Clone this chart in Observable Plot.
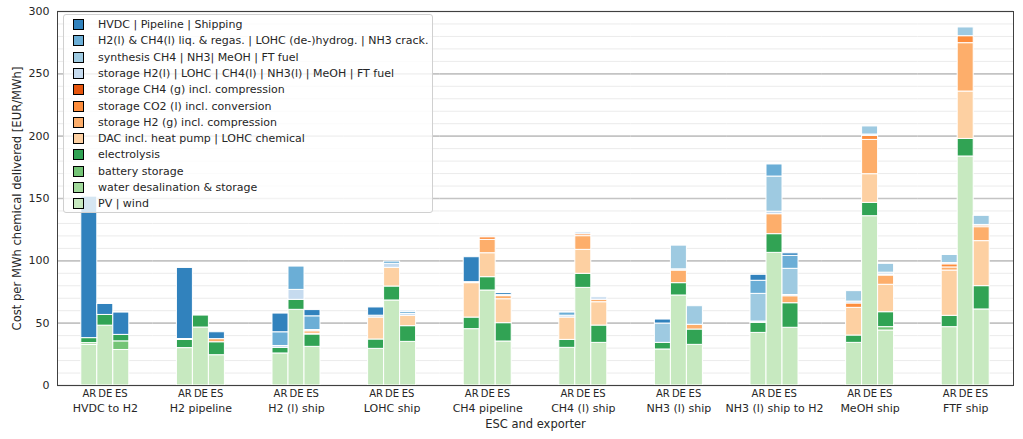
<!DOCTYPE html>
<html><head><meta charset="utf-8">
<script src="https://cdn.jsdelivr.net/npm/d3@7"></script>
<script src="https://cdn.jsdelivr.net/npm/@observablehq/plot@0.6"></script>
<style>
body{margin:0;background:#fff;font-family:"DejaVu Sans",sans-serif;}
#wrap{position:relative;width:1023px;height:439px;}
#legend{position:absolute;left:63px;top:14px;width:370px;height:199px;background:rgba(255,255,255,0.8);border:1px solid #d0d0d0;border-radius:3px;box-sizing:border-box;z-index:2;}
.row{position:absolute;left:0;height:16px;display:flex;align-items:center;font-size:11px;color:#262626;white-space:nowrap;}
.sw{width:9px;height:9px;border:1px solid #000;margin-left:9px;margin-right:14px;flex:none;}
</style></head>
<body><div id="wrap"><div id="legend"></div></div>
<script>
const groups = ["HVDC to H2","H2 pipeline","H2 (l) ship","LOHC ship","CH4 pipeline","CH4 (l) ship","NH3 (l) ship","NH3 (l) ship to H2","MeOH ship","FTF ship"];
const exporters = ["AR","DE","ES"];
// legend order (top to bottom)
const categories = [
  "HVDC | Pipeline | Shipping",
  "H2(l) & CH4(l) liq. & regas. | LOHC (de-)hydrog. | NH3 crack.",
  "synthesis CH4 | NH3| MeOH | FT fuel",
  "storage H2(l) | LOHC | CH4(l) | NH3(l) | MeOH | FT fuel",
  "storage CH4 (g) incl. compression",
  "storage CO2 (l) incl. conversion",
  "storage H2 (g) incl. compression",
  "DAC incl. heat pump | LOHC chemical",
  "electrolysis",
  "battery storage",
  "water desalination & storage",
  "PV | wind"
];
const colors = ["#3182bd","#6baed6","#9ecae1","#c6dbef","#e6550d","#fd8d3c","#fdae6b","#fdd0a2","#31a354","#74c476","#a1d99b","#c7e9c0"];
const yTicks = [0,50,100,150,200,250,300];
const yLabel = "Cost per MWh chemical delivered [EUR/MWh]";
const xLabel = "ESC and exporter";

// values per group: AR, DE, ES
const transport     = [113.5,8.8,17.9, 57,0,5.5, 15,0,5, 6.6,0,1, 20,0,1.5, 0,0,0, 3.2,0,0, 4.8,0,2, 0,0,0, 0,0,0];
const liquefaction  = [0,0,0, 0,0,0, 11,18.7,11, 0,1.8,1.5, 0,0,0, 2.5,0,0, 0,0,0, 10.5,9.7,10.4, 0,0,0, 0,0,0];
const synthesis     = [0,0,0, 0,0,0, 0,0,0, 0,0,0, 0,0,0, 0,0,0, 15.5,19,14.9, 22.2,28.2,21, 8.4,6.5,7.1, 6.5,7,7.3];
const storageLiquid = [0,0,0, 0,0,0, 1.5,8,1, 1.5,3.2,1.5, 0.8,0,1, 1.5,1.5,2, 0,1,0, 1,2,1, 1.5,1,1.5, 1,0,0.5];
const storageCH4g   = [0,0,0, 0,0,0, 0,0,0, 0,0,0, 0,0,0, 0,0,0, 0,0,0, 0,0,0, 0,0,0, 0,0,0];
const storageCO2    = [0,0,0, 0,0,0, 0,0,0, 0,0,0, 0,2,0, 0,1.5,0, 0,0,0, 0,0,0, 3.5,3.3,0.8, 2.5,5.6,1.3];
const storageH2g    = [0,0,0, 0,0,2.5, 0,0,2, 0,0,0, 0,10.7,2.5, 0,11,2, 0,10.1,3.8, 0,16,5.6, 0,27.5,7.4, 2.5,38.8,11.2];
const dac           = [0,0,0, 0.8,0,0, 0,0,0.6, 17.6,15,8.3, 27.6,19.2,19.2, 17.9,19.2,18.7, 0,0,0, 0,0,0, 22.2,23,22, 36.3,38,36.1];
const electrolysis  = [4,8.6,5.2, 6.5,9.6,10.4, 4.5,8,9.9, 7.5,11.2,12.6, 9.3,10.7,14.7, 6.4,11.3,13.9, 5.3,9.9,12.3, 8.1,15,19.7, 5.9,10.7,12, 9.1,14.1,18.7];
const battery       = [0,0,6.9, 0,0,0, 0,0,0, 0,0,0, 0,0,0, 0,0,0, 0,0,0, 0,0,0, 0,0,2.7, 0,0,0];
const waterDesal    = [1.5,0,0, 0,0,0, 0,0,0, 0,0,0, 0,0,0, 0,0,0, 0,0,0, 0,0,0, 0,0,0, 0,0,0];
const pvWind        = [32.5,48,28.5, 30,46.5,24.3, 25.7,60.7,31, 29.4,68.2,35, 45.2,76.2,35.3, 30.2,78.3,34.2, 28.9,72.2,32.6, 42.2,106.4,46.3, 34.2,135.8,44.1, 46.8,183.7,61];

const seriesValues = [transport, liquefaction, synthesis, storageLiquid, storageCH4g, storageCO2, storageH2g, dac, electrolysis, battery, waterDesal, pvWind];
const stackOrder = categories.slice().reverse(); // bottom to top

const data = [];
stackOrder.forEach(cat => {
  const vals = seriesValues[categories.indexOf(cat)];
  groups.forEach((g, gi) => exporters.forEach((e, ei) => {
    const v = vals[gi * 3 + ei];
    if (v > 0) data.push({group: g, exporter: e, category: cat, value: v});
  }));
});

const chart = Plot.plot({
  width: 1023, height: 439,
  marginTop: 11, marginBottom: 54, marginLeft: 57, marginRight: 10,
  style: {fontFamily: "DejaVu Sans", fontSize: "11px", color: "#262626", background: "transparent"},
  fx: {domain: groups, padding: 0, round: false, label: null},
  x: {domain: exporters, paddingInner: 0, paddingOuter: 1.4875, round: false, label: null},
  y: {domain: [0, 300], label: null},
  color: {domain: categories, range: colors},
  marks: [
    Plot.gridY(d3.range(0, 301, 10), {stroke: "#ebebeb", strokeOpacity: 1, strokeWidth: 1}),
    Plot.gridY(yTicks, {stroke: "#c4c4c4", strokeOpacity: 1, strokeWidth: 1.6}),
    Plot.barY(data, Plot.stackY({fx: "group", x: "exporter", y: "value", fill: "category", order: stackOrder, stroke: "white", strokeWidth: 1})),
    Plot.frame({facet: "super", stroke: "#404040"}),
    Plot.axisY(yTicks, {tickSize: 0, tickPadding: 8, fontSize: 11, label: null}),
    Plot.axisX({tickSize: 0, tickPadding: 4, fontSize: 10, label: null}),
    Plot.axisFx({anchor: "bottom", tickSize: 0, tickPadding: 19, fontSize: 11, label: null}),
    Plot.text([yLabel], {facet: "super", frameAnchor: "left", rotate: -90, dx: -40, text: d => d, fontSize: 11.6, textAnchor: "middle", fill: "#262626"}),
    Plot.text([xLabel], {facet: "super", frameAnchor: "bottom", dy: 42, text: d => d, fontSize: 11.5, textAnchor: "middle", fill: "#262626"})
  ]
});
document.getElementById("wrap").appendChild(chart);

const legend = document.getElementById("legend");
categories.forEach((c, i) => {
  const row = document.createElement("div");
  row.className = "row";
  row.style.top = (1.7 + i * 16.27) + "px";
  const sw = document.createElement("div");
  sw.className = "sw";
  sw.style.background = colors[i];
  const tx = document.createElement("span");
  tx.textContent = c;
  row.appendChild(sw); row.appendChild(tx);
  legend.appendChild(row);
});
</script>
</body></html>
